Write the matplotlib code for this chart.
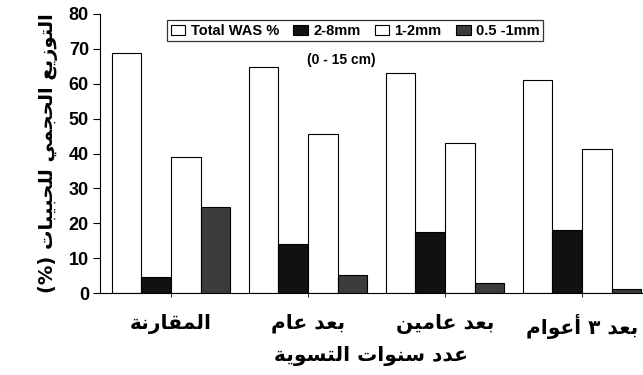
import matplotlib
matplotlib.use('Agg')
import matplotlib.pyplot as plt
import numpy as np

# Arabic presentation forms: isolated, final, initial, medial
FORMS = {
    'ا': (0xFE8D, 0xFE8E), 'أ': (0xFE83, 0xFE84),
    'ب': (0xFE8F, 0xFE90, 0xFE91, 0xFE92), 'ة': (0xFE93, 0xFE94),
    'ت': (0xFE95, 0xFE96, 0xFE97, 0xFE98), 'ج': (0xFE9D, 0xFE9E, 0xFE9F, 0xFEA0),
    'ح': (0xFEA1, 0xFEA2, 0xFEA3, 0xFEA4), 'د': (0xFEA9, 0xFEAA),
    'ر': (0xFEAD, 0xFEAE), 'ز': (0xFEAF, 0xFEB0),
    'س': (0xFEB1, 0xFEB2, 0xFEB3, 0xFEB4), 'ع': (0xFEC9, 0xFECA, 0xFECB, 0xFECC),
    'ق': (0xFED5, 0xFED6, 0xFED7, 0xFED8), 'ل': (0xFEDD, 0xFEDE, 0xFEDF, 0xFEE0),
    'م': (0xFEE1, 0xFEE2, 0xFEE3, 0xFEE4), 'ن': (0xFEE5, 0xFEE6, 0xFEE7, 0xFEE8),
    'و': (0xFEED, 0xFEEE), 'ي': (0xFEF1, 0xFEF2, 0xFEF3, 0xFEF4),
}


def shape_word(w):
    out = []
    for i, ch in enumerate(w):
        f = FORMS.get(ch)
        if f is None:
            out.append(ch)
            continue
        prev = w[i - 1] if i > 0 else None
        nxt = w[i + 1] if i < len(w) - 1 else None
        jp = prev in FORMS and len(FORMS[prev]) == 4
        jn = len(f) == 4 and nxt in FORMS
        k = 3 if (jp and jn) else 1 if jp else 2 if jn else 0
        out.append(chr(f[k]))
    return ''.join(reversed(out))


def ar(text):
    return ' '.join(shape_word(w) for w in reversed(text.split()))


categories = ['المقارنة', 'بعد عام', 'بعد عامين', 'بعد ٣ أعوام']
series = ['Total WAS %', '2-8mm', '1-2mm', '0.5 -1mm']
total_was = [68.7, 64.8, 63.0, 61.0]
mm_2_8 = [4.6, 14.0, 17.4, 18.2]
mm_1_2 = [39.0, 45.5, 43.0, 41.4]
mm_05_1 = [24.7, 5.3, 2.9, 1.2]
values = [total_was, mm_2_8, mm_1_2, mm_05_1]
colors = ['white', '#111111', 'white', '#3c3c3c']

plt.rcParams['font.family'] = ['Liberation Sans', 'DejaVu Sans']
plt.rcParams['font.weight'] = 'bold'

fig = plt.figure(figsize=(6.43, 3.75), dpi=100)
ax = fig.add_axes([100 / 643, 1 - 293 / 375, 543 / 643, 279 / 375])

x = np.arange(len(categories))
w = 0.216
for i, (name, vals, c) in enumerate(zip(series, values, colors)):
    ax.bar(x + (i - 1.5) * w, vals, w, color=c, edgecolor='black',
           linewidth=0.8, label=name)

ax.set_xlim(-0.518, 3.445)
ax.set_ylim(0, 80)
ax.set_yticks(range(0, 81, 10))
ax.tick_params(axis='y', labelsize=13, length=5, width=0.8, pad=3)
ax.set_xticks(x)
ax.set_xticklabels([ar(c) for c in categories], fontsize=14.5,
                   family='DejaVu Sans', fontweight='bold')
ax.tick_params(axis='x', length=3, width=0.6, pad=12)
for s in ['top', 'right']:
    ax.spines[s].set_visible(False)
ax.spines['left'].set_linewidth(0.8)
ax.spines['bottom'].set_linewidth(0.8)

ax.set_xlabel(ar('عدد سنوات التسوية'), fontsize=14.5, family='DejaVu Sans',
              fontweight='bold', labelpad=5)
ax.set_ylabel('(%) ' + ar('التوزيع الحجمي للحبيبات'), fontsize=14,
              family='DejaVu Sans', fontweight='bold', labelpad=8)

leg = ax.legend(loc='upper center', bbox_to_anchor=(0.47, 0.978), ncol=4,
                fontsize=10.5, frameon=True, fancybox=False, edgecolor='black',
                handlelength=1.0, handleheight=0.65, handletextpad=0.35,
                columnspacing=1.0, borderpad=0.25, borderaxespad=0)
leg.get_frame().set_linewidth(0.9)
for t in leg.get_texts():
    t.set_fontweight('bold')

ax.text(0.445, 0.835, '(0 - 15 cm)', transform=ax.transAxes, ha='center',
        va='center', fontsize=10, fontweight='bold')

fig.savefig('out.png', dpi=100)
